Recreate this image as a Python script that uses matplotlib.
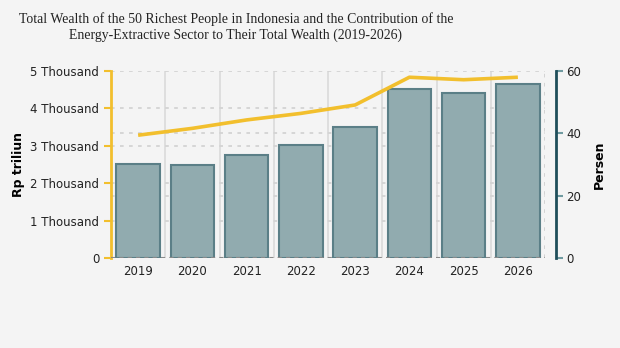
import matplotlib.pyplot as plt
import numpy as np
from matplotlib.ticker import FuncFormatter
from matplotlib.transforms import blended_transform_factory

years = ["2019", "2020", "2021", "2022", "2023", "2024", "2025", "2026"]
wealth = [2510, 2490, 2750, 3020, 3510, 4510, 4420, 4650]  # Rp trilion
share = [39.4, 41.6, 44.3, 46.4, 49.1, 58.0, 57.2, 58.0]  # percent

bg = "#f4f4f4"
bar_fill = "#91abaf"
bar_edge = "#5b7f87"
line_col = "#f2bf2d"
right_col = "#1f4e5a"

fig = plt.figure(figsize=(6.2, 3.48), dpi=100, facecolor=bg)
ax = fig.add_axes([111 / 620, 1 - 258 / 348, 434 / 620, 187 / 348])
ax.set_facecolor(bg)
ax2 = ax.twinx()

x = np.arange(len(years))
ax.set_xlim(-0.5, len(years) - 0.5)
ax.set_ylim(0, 5000)
ax2.set_ylim(0, 60)

# grids (all drawn in ax so they sit behind the bars)
for b in np.arange(0.5, len(years) - 0.5):
    ax.axvline(b, color="#dcdcdc", lw=1.3, zorder=0)
ax.axvline(len(years) - 0.5, color="#d0d0d0", lw=1.3, ls=(0, (2, 3)), zorder=0)
for v in [1000, 2000, 3000, 4000, 5000]:
    ax.axhline(v, color="#d3d3d3", lw=1.3, ls=(0, (2, 3)), zorder=0)
pct_trans = blended_transform_factory(ax.transAxes, ax2.transData)
for v in [20, 40]:
    ax.plot([0, 1], [v, v], transform=pct_trans, color="#d3d3d3", lw=1.3,
            ls=(0, (2, 3)), zorder=0)

ax.bar(x, wealth, width=0.8, color=bar_fill, edgecolor=bar_edge, linewidth=1.5, zorder=2)
ax.axhline(0, color="#8a8a8a", lw=1.5, ls=(0, (2, 2)), zorder=3)
ax2.plot(x, share, color=line_col, lw=2.6, solid_capstyle="butt", zorder=4)

ax.set_yticks([0, 1000, 2000, 3000, 4000, 5000])
ax.yaxis.set_major_formatter(FuncFormatter(lambda v, p: "0" if v == 0 else f"{int(v / 1000)} Thousand"))
ax.set_xticks(x)
ax.set_xticklabels(years)
ax2.set_yticks([0, 20, 40, 60])

for a in (ax, ax2):
    for s in a.spines.values():
        s.set_visible(False)

ax.spines["left"].set_visible(True)
ax.spines["left"].set_color(line_col)
ax.spines["left"].set_linewidth(2)
ax.tick_params(axis="y", colors=line_col, labelcolor="#222222", length=5, width=1.5, labelsize=8.5)
ax.tick_params(axis="x", length=0, labelsize=8.5, labelcolor="#222222", pad=5)

ax2.spines["right"].set_visible(True)
ax2.spines["right"].set_position(("outward", 8))
ax2.spines["right"].set_color(right_col)
ax2.spines["right"].set_linewidth(2)
ax2.tick_params(axis="y", colors="#6f9aa0", labelcolor="#222222", length=5, width=1.5,
                labelsize=8.5, pad=2.5)

ax.set_ylabel("Rp triliun", fontsize=9, fontweight="bold", labelpad=4)
ax2.set_ylabel("Persen", fontsize=9, fontweight="bold", labelpad=8)

fig.text(236 / 620, 1 - 27 / 348,
         "Total Wealth of the 50 Richest People in Indonesia and the Contribution of the\n"
         "Energy-Extractive Sector to Their Total Wealth (2019-2026)",
         ha="center", va="center", fontsize=9.9, family="Liberation Serif",
         color="#222222", linespacing=1.3)

fig.savefig("out.png", dpi=100, facecolor=bg)
